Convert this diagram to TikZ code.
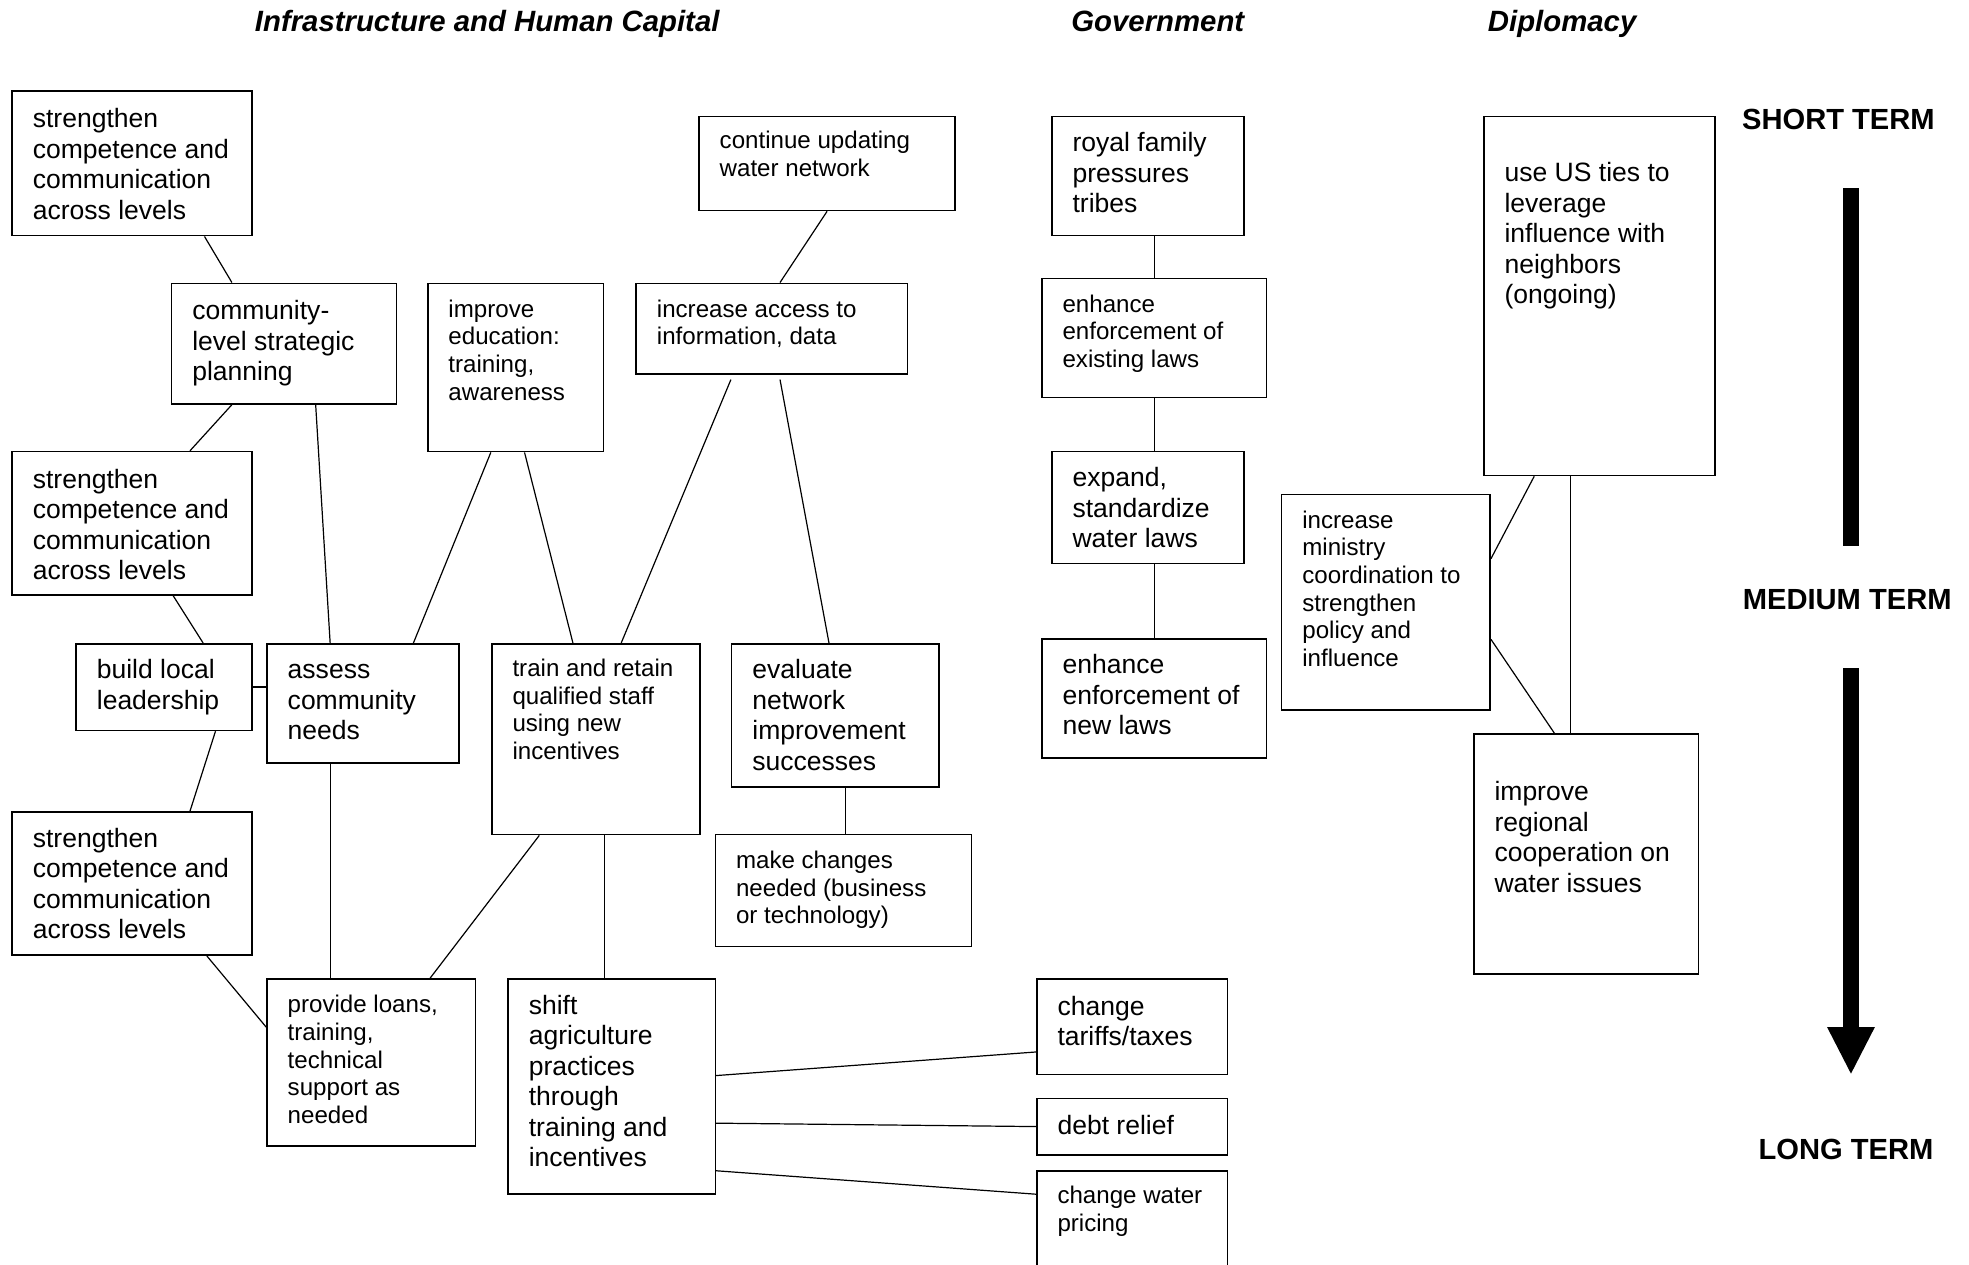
\documentclass[tikz,border=0pt]{standalone}
\usepackage{fontspec}
\setmainfont{Liberation Sans}
\usetikzlibrary{calc}
\newdimen\U \U=0.625pt
\newcommand\fbig{\fontsize{13.2}{15.2}\selectfont}
\newcommand\fsmall{\fontsize{12}{13.75}\selectfont}
\newcommand\boxtext[5]{\vbox to #2\U{#4\hsize=#1\U\relax\parskip=0pt\parindent=0pt\leftskip=16.5\U\relax\rightskip=-100pt plus 1fil\relax\hyphenpenalty=10000\relax\vskip\dimexpr #3\U+1\U-\baselineskip\relax\hbox{}#5\par\vfil}}
\tikzset{bx/.style={draw, line width=0.8pt, inner sep=0pt, anchor=north west},
  ln/.style={line width=0.6pt},
  hdr/.style={anchor=base, inner sep=0pt, font=\fontsize{14.6}{17}\selectfont\bfseries\itshape},
  term/.style={anchor=base, inner sep=0pt, font=\fontsize{14.5}{17}\selectfont\bfseries}}
\newcommand\Bx[8]{\node[bx] (#1) at (#2,#3) {\boxtext{\the\numexpr#4-#2\relax}{\the\numexpr#5-#3\relax}{#6}{#7}{#8}};}
\begin{document}
\begin{tikzpicture}[x=0.625pt,y=-0.625pt]
\fill[white] (0,0) rectangle (1568,1007);
\useasboundingbox (0,0) rectangle (1568,1007);
% headers
\node[hdr] (h1) at (388,25) {Infrastructure and Human Capital};
\node[hdr] (h2) at (922,25) {Government};
\node[hdr] (h3) at (1244,25) {Diplomacy};
\node[term] (st) at (1464,103) {SHORT TERM};
\node[term] (mt) at (1471,485) {MEDIUM TERM};
\node[term] (lt) at (1470,923) {LONG TERM};
% arrow
\fill (1468,150) rectangle (1480,435);
\fill (1468,532) rectangle (1480,819);
\fill (1455,818) -- (1493,818) -- (1474,855) -- cycle;
% boxes
\Bx{A1}{9}{72}{200}{187}{28}{\fbig}{strengthen\\competence and\\communication\\across levels}
\Bx{B}{136}{225}{315}{321}{28}{\fbig}{community-\\level strategic\\planning}
\Bx{A2}{9}{359}{200}{473}{28}{\fbig}{strengthen\\competence and\\communication\\across levels}
\Bx{C}{60}{512}{200}{581}{27}{\fbig}{build local\\leadership}
\Bx{D}{212}{512}{365}{607}{27}{\fbig}{assess\\community\\needs}
\Bx{A3}{9}{646}{200}{760}{27}{\fbig}{strengthen\\competence and\\communication\\across levels}
\Bx{E}{212}{779}{378}{912}{26}{\fsmall}{provide loans,\\training,\\technical\\support as\\needed}
\Bx{F}{340}{225}{480}{359}{26}{\fsmall}{improve\\education:\\training,\\awareness}
\Bx{G}{391}{512}{557}{664}{25}{\fsmall}{train and retain\\qualified staff\\using new\\incentives}
\Bx{H}{556}{92}{760}{167}{25}{\fsmall}{continue updating\\water network}
\Bx{I}{506}{225}{722}{297}{26}{\fsmall}{increase access to\\information, data}
\Bx{J}{582}{512}{747}{626}{27}{\fbig}{evaluate\\network\\improvement\\successes}
\Bx{K}{569}{664}{773}{753}{26}{\fsmall}{make changes\\needed (business\\or technology)}
\Bx{L}{404}{779}{569}{950}{27}{\fbig}{shift\\agriculture\\practices\\through\\training and\\incentives}
\Bx{M}{825}{779}{977}{855}{28}{\fbig}{change\\tariffs/taxes}
\Bx{N}{825}{874}{977}{919}{28}{\fbig}{debt relief}
\Bx{O}{825}{932}{977}{1035}{25}{\fsmall}{change water\\pricing}
\Bx{P}{837}{92}{990}{187}{27}{\fbig}{royal family\\pressures\\tribes}
\Bx{Q}{829}{221}{1008}{316}{26}{\fsmall}{enhance\\enforcement of\\existing laws}
\Bx{R}{837}{359}{990}{448}{27}{\fbig}{expand,\\standardize\\water laws}
\Bx{S}{829}{508}{1008}{603}{27}{\fbig}{enhance\\enforcement of\\new laws}
\Bx{T}{1181}{92}{1365}{378}{51}{\fbig}{use US ties to\\leverage\\influence with\\neighbors\\(ongoing)}
\Bx{U}{1020}{393}{1186}{565}{26}{\fsmall}{increase\\ministry\\coordination to\\strengthen\\policy and\\influence}
\Bx{V}{1173}{584}{1352}{775}{52}{\fbig}{improve\\regional\\cooperation on\\water issues}
% connectors
\draw[ln] ($(A1.south west)!.80!(A1.south east)$) -- ($(B.north west)!.27!(B.north east)$);
\draw[ln] ($(B.south west)!.27!(B.south east)$) -- ($(A2.north west)!.74!(A2.north east)$);
\draw[ln] ($(B.south west)!.64!(B.south east)$) -- ($(D.north west)!.33!(D.north east)$);
\draw[ln] ($(A2.south west)!.67!(A2.south east)$) -- ($(C.north west)!.72!(C.north east)$);
\draw[ln] (C.east) -- (C.east -| D.west);
\draw[ln] ($(C.south west)!.79!(C.south east)$) -- ($(A3.north west)!.74!(A3.north east)$);
\draw[ln] ($(A3.south west)!.81!(A3.south east)$) -- ($(E.north west)!.29!(E.south west)$);
\draw[ln] ($(D.south west)!.33!(D.south east)$) coordinate (d1) -- (d1 |- E.north);
\draw[ln] ($(F.south west)!.36!(F.south east)$) -- ($(D.north west)!.76!(D.north east)$);
\draw[ln] ($(F.south west)!.55!(F.south east)$) -- ($(G.north west)!.39!(G.north east)$);
\draw[ln] ($(I.south west)!.35!(I.south east)+(0,4)$) -- ($(G.north west)!.62!(G.north east)$);
\draw[ln] ($(I.south west)!.53!(I.south east)+(0,4)$) -- ($(J.north west)!.47!(J.north east)$);
\draw[ln] ($(H.south west)!.50!(H.south east)$) -- ($(I.north west)!.53!(I.north east)$);
\draw[ln] ($(G.south west)!.23!(G.south east)$) -- ($(E.north west)!.78!(E.north east)$);
\draw[ln] ($(G.south west)!.54!(G.south east)$) coordinate (g1) -- (g1 |- L.north);
\draw[ln] ($(J.south west)!.55!(J.south east)$) coordinate (j1) -- (j1 |- K.north);
\draw[ln] ($(L.north east)!.45!(L.south east)$) -- ($(M.north west)!.76!(M.south west)$);
\draw[ln] ($(L.north east)!.67!(L.south east)$) -- (N.west);
\draw[ln] ($(L.north east)!.89!(L.south east)$) -- ($(O.north west)+(0,19)$);
\draw[ln] (Q.north) -- (Q.north |- P.south);
\draw[ln] (Q.south) -- (Q.south |- R.north);
\draw[ln] (S.north) -- (S.north |- R.south);
\draw[ln] ($(T.south west)!.22!(T.south east)$) -- ($(U.north east)!.30!(U.south east)$);
\draw[ln] ($(T.south west)!.375!(T.south east)$) coordinate (t1) -- (t1 |- V.north);
\draw[ln] ($(U.north east)!.67!(U.south east)$) -- ($(V.north west)!.36!(V.north east)$);
\end{tikzpicture}
\end{document}
